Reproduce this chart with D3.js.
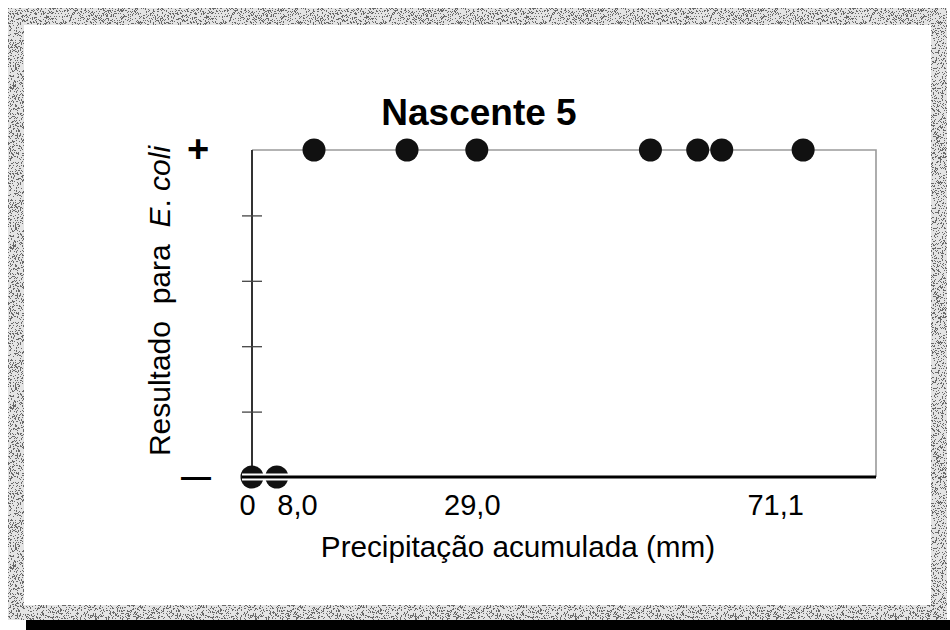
<!DOCTYPE html>
<html><head><meta charset="utf-8">
<script src="https://cdn.jsdelivr.net/npm/d3@7"></script>
<style>body{margin:0;background:#fff}svg{display:block}</style>
</head><body><svg id="c" width="950" height="630"></svg>
<script>
// ---- data ----
const chartTitle = "Nascente 5";
const positiveRain = [8.0, 20.0, 29.0, 51.4, 57.5, 60.6, 71.1];   // E. coli present (+)
const negativeRain = [0, 3.2];                                     // E. coli absent (−)
const xTickValues = [0, 8.0, 29.0, 71.1];
const xTickLabels = ["0", "8,0", "29,0", "71,1"];
const yResultLabels = ["\u2014", "+"];        // at result 0 and 1
const yMinorTicks = [0.2, 0.4, 0.6, 0.8];
const xTitle = "Precipitação acumulada (mm)";

// ---- layout ----
const W = 950, H = 630;
const pLeft = 252, pRight = 876, pTop = 150, pBottom = 477;
const tickLabelDx = [-5, -17, -5, -28];
const font = "'Liberation Sans', Arial, sans-serif";

const svg = d3.select("#c");
const defs = svg.append("defs");
const f = defs.append("filter").attr("id","stip").attr("filterUnits","userSpaceOnUse")
  .attr("x",0).attr("y",0).attr("width",W).attr("height",H);
f.append("feTurbulence").attr("type","fractalNoise").attr("baseFrequency",1.6).attr("numOctaves",1).attr("seed",11).attr("result","t");
f.append("feColorMatrix").attr("in","t").attr("type","matrix")
  .attr("values","0 0 0 0 0  0 0 0 0 0  0 0 0 0 0  6 0 0 0 -2.95").attr("result","a");
const ct = f.append("feComponentTransfer").attr("in","a").attr("result","d");
ct.append("feFuncA").attr("type","discrete").attr("tableValues","0 1");
f.append("feFlood").attr("flood-color","#6a6a6a").attr("result","col");
f.append("feComposite").attr("in","col").attr("in2","d").attr("operator","in").attr("result","dots");
f.append("feComposite").attr("in","dots").attr("in2","SourceGraphic").attr("operator","in");

// frame band
const ox0=8, oy0=8, ox1=947, oy1=620, ix0=24, iy0=25, ix1=931, iy1=605;
svg.append("rect").attr("x",26).attr("y",620).attr("width",W-26).attr("height",10).attr("fill","#000");
const band = `M${ox0},${oy0}H${ox1}V${oy1}H${ox0}Z M${ix0},${iy0}V${iy1}H${ix1}V${iy0}Z`;
svg.append("path").attr("d",band).attr("fill-rule","evenodd").attr("fill","#e4e4e4");
svg.append("path").attr("d",band).attr("fill-rule","evenodd").attr("fill","#000").attr("filter","url(#stip)");

// scales
const x = d3.scaleLinear().domain([0, 80.5]).range([pLeft, pRight]);
const y = d3.scaleLinear().domain([0, 1]).range([pBottom, pTop]);

// title
svg.append("text").attr("x",479).attr("y",125).attr("text-anchor","middle")
  .attr("font-family",font).attr("font-weight","bold").attr("font-size",37).attr("fill","#000").text(chartTitle);

// plot border (top & right light)
svg.append("path").attr("d",`M${pLeft},${y(1)}H${pRight}V${y(0)}`).attr("fill","none")
  .attr("stroke","#9a9a9a").attr("stroke-width",1.6);

// left axis with crossing ticks
const ya = d3.axisLeft(y).tickValues(yMinorTicks).tickSize(10).tickFormat("");
const yg = svg.append("g").attr("transform",`translate(${pLeft},0)`).call(ya);
yg.select(".domain").attr("stroke","#333").attr("stroke-width",2).attr("d",`M0,${y(1)}V${y(0)}`);
yg.selectAll(".tick line").attr("x1",10).attr("x2",-10).attr("stroke","#444").attr("stroke-width",1.3);

// y result labels
svg.selectAll(".ylab").data(yResultLabels).enter().append("text")
  .attr("x",(d,i)=>i===1?198:196).attr("y",(d,i)=>y(i)+ (i===1?12:10)).attr("text-anchor","middle")
  .attr("font-family",font).attr("font-weight","bold").attr("font-size",(d,i)=>i===1?38:30).attr("fill","#000").text(d=>d);

// y title
const yt = svg.append("text").attr("transform",`translate(170,301) rotate(-90)`)
  .attr("text-anchor","middle").attr("font-family",font).attr("font-size",30).attr("fill","#000")
  .attr("xml:space","preserve").style("white-space","pre");
yt.append("tspan").text("Resultado  para  ");
yt.append("tspan").attr("font-style","italic").text("E");
yt.append("tspan").text(". ");
yt.append("tspan").attr("font-style","italic").text("coli");

// points
const pts = positiveRain.map(v=>({v, r:1})).concat(negativeRain.map(v=>({v, r:0})));
svg.selectAll(".pt").data(pts).enter().append("circle")
  .attr("cx",d=>x(d.v)).attr("cy",d=>y(d.r)).attr("r",11.5).attr("fill","#111");

// x axis
svg.append("line").attr("x1",pLeft-10).attr("x2",pLeft+40).attr("y1",y(0)).attr("y2",y(0))
  .attr("stroke","#fff").attr("stroke-width",7);
const xa = d3.axisBottom(x).tickValues(xTickValues).tickSize(0).tickFormat((d,i)=>xTickLabels[i]);
const xg = svg.append("g").attr("transform",`translate(0,${y(0)})`).call(xa);
xg.select(".domain").attr("stroke","#000").attr("stroke-width",3).attr("d",`M${pLeft-10},0H${pRight}`);
xg.selectAll(".tick text").attr("font-family",font).attr("font-size",29).attr("fill","#000")
  .attr("y",17).attr("dy","0.71em").attr("dx",(d,i)=>tickLabelDx[i]);

// x title
svg.append("text").attr("x",518).attr("y",557).attr("text-anchor","middle")
  .attr("font-family",font).attr("font-size",29.7).attr("fill","#000").text(xTitle);
</script></body></html>
